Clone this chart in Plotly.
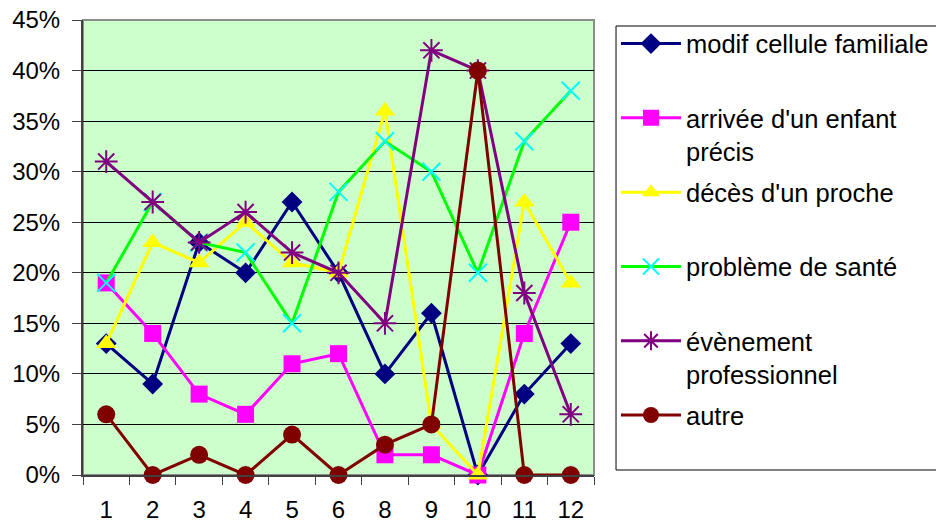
import plotly.graph_objects as go

categories = ["1", "2", "3", "4", "5", "6", "8", "9", "10", "11", "12"]

modif_cellule = [13, 9, 23, 20, 27, 20, 10, 16, 0, 8, 13]
arrivee_enfant = [19, 14, 8, 6, 11, 12, 2, 2, 0, 14, 25]
deces_proche = [13, 23, 21, 25, 21, 20, 36, 5, 0, 27, 19]
probleme_sante = [19, 27, 23, 22, 15, 28, 33, 30, 20, 33, 38]
evenement_pro = [31, 27, 23, 26, 22, 20, 15, 42, 40, 18, 6]
autre = [6, 0, 2, 0, 4, 0, 3, 5, 40, 0, 0]

series = [
    ("modif cellule familiale<br> ", modif_cellule, "#000080", "diamond", "#000080", 16),
    ("arrivée d'un enfant<br>précis", arrivee_enfant, "#FF00FF", "square", "#FF00FF", 17),
    ("décès d'un proche<br> ", deces_proche, "#FFFF00", "triangle-up", "#FFFF00", 18),
    ("problème de santé<br> ", probleme_sante, "#00FF00", "x-thin", "#00FFFF", 18),
    ("évènement<br>professionnel", evenement_pro, "#800080", "asterisk", "#800080", 19),
    ("autre<br> ", autre, "#800000", "circle", "#800000", 18),
]

fig = go.Figure()
for i, (name, vals, lc, sym, mc, ms) in enumerate(series):
    marker = dict(symbol=sym, size=ms, color=mc)
    if sym in ("x-thin", "asterisk"):
        marker["line"] = dict(color=mc, width=2)
    else:
        marker["line"] = dict(color=mc, width=0)
    fig.add_trace(go.Scatter(
        x=categories, y=[v / 100 for v in vals], name=name,
        mode="lines+markers", line=dict(color=lc, width=3),
        marker=marker, legendgroup=str(i), cliponaxis=False,
    ))

font = "Liberation Sans, Arial, sans-serif"
fig.update_layout(
    width=936, height=524,
    margin=dict(l=83, r=342, t=20, b=49, autoexpand=False),
    paper_bgcolor="white",
    plot_bgcolor="#CCFFCC",
    font=dict(family=font, size=24, color="black"),
    showlegend=True,
    legend=dict(
        x=1.043, xanchor="left", y=0.999, yanchor="top",
        bgcolor="rgba(0,0,0,0)", bordercolor="rgba(0,0,0,0)", borderwidth=0,
        font=dict(family=font, size=25.5, color="black"),
        traceorder="grouped", tracegroupgap=5, valign="top",
        itemwidth=60,
    ),
    shapes=[
        dict(type="rect", xref="paper", yref="paper", x0=0, x1=1, y0=0, y1=1,
             line=dict(color="#8C8C8C", width=2), layer="below"),
        dict(type="rect", xref="paper", yref="paper", x0=1.0431, x1=1.7, y0=0.011, y1=0.9868,
             line=dict(color="black", width=1), fillcolor="white", layer="below"),
    ],
)
fig.update_xaxes(
    type="category", categoryorder="array", categoryarray=categories,
    range=[-0.5, 10.5],
    tickson="boundaries", ticks="outside", ticklen=8, tickcolor="#404040", tickwidth=1,
    showline=True, linecolor="#404040", linewidth=2,
    showgrid=False, ticklabelstandoff=12, zeroline=False, automargin=False,
    ticklabeloverflow="allow",
)
fig.update_yaxes(
    range=[0, 0.45], dtick=0.05, tickformat=".0%",
    ticks="outside", ticklen=9, tickcolor="#404040", tickwidth=1,
    showline=True, linecolor="#404040", linewidth=2,
    showgrid=True, gridcolor="black", gridwidth=1, zeroline=False,
    ticklabelstandoff=7, automargin=False, ticklabeloverflow="allow",
)
fig.write_html("out.html", config={"displayModeBar": False},
               post_script="document.body.style.margin='0px';")
